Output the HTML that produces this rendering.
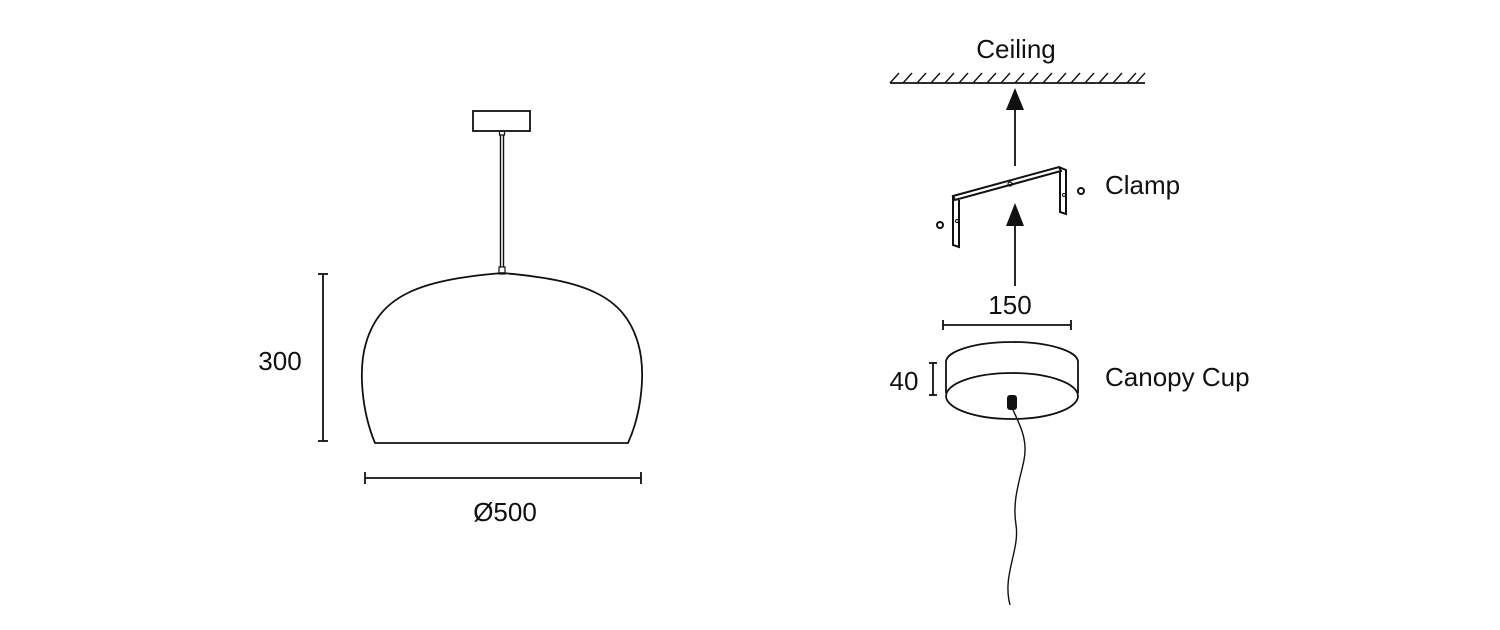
<!DOCTYPE html>
<html><head><style>
html,body{margin:0;padding:0;background:#fff;width:1500px;height:630px;overflow:hidden}
text{font-family:"Liberation Sans",sans-serif;font-size:26px;fill:#111}
</style></head><body>
<svg width="1500" height="630" viewBox="0 0 1500 630" xmlns="http://www.w3.org/2000/svg">
<g fill="none" stroke="#111" stroke-width="1.8">
<rect x="473" y="111" width="57" height="20"/>
<rect x="499.5" y="131" width="5" height="4" stroke-width="1.2"/>
<line x1="500.5" y1="135" x2="500.5" y2="267" stroke-width="1.4"/>
<line x1="503.5" y1="135" x2="503.5" y2="267" stroke-width="1.4"/>
<rect x="499" y="267" width="6" height="7" stroke-width="1.2"/>
<path d="M375,443 C362,412 358,370 366,343 C380,295 420,280 502,273 C584,280 624,295 638,343 C646,370 642,412 628,443 Z"/>
<line x1="323" y1="274" x2="323" y2="441"/>
<line x1="318" y1="274" x2="328" y2="274"/>
<line x1="318" y1="441" x2="328" y2="441"/>
<line x1="365" y1="478" x2="641" y2="478"/>
<line x1="365" y1="472" x2="365" y2="484"/>
<line x1="641" y1="472" x2="641" y2="484"/>
<line x1="890" y1="83" x2="1145" y2="83"/>
<path stroke-width="1.4" d="M890,83 l9,-10 M903,83 l9,-10 M917,83 l9,-10 M931,83 l9,-10 M945,83 l9,-10 M959,83 l9,-10 M973,83 l9,-10 M987,83 l9,-10 M1001,83 l9,-10 M1015,83 l9,-10 M1029,83 l9,-10 M1043,83 l9,-10 M1057,83 l9,-10 M1071,83 l9,-10 M1085,83 l9,-10 M1099,83 l9,-10 M1113,83 l9,-10 M1127,83 l9,-10 M1136,83 l9,-10"/>
<line x1="1015" y1="105" x2="1015" y2="166"/>
<line x1="1015" y1="222" x2="1015" y2="286"/>
<path stroke-width="2" d="M953,196 L1059,167 L1061,171 L955,200 Z"/>
<path stroke-width="2" d="M953,196 L953,245 L959,247 L959,200"/>
<path stroke-width="2" d="M1059,167 L1066,170 L1066,214 L1060,212 L1060,171"/>
<circle cx="1010" cy="184" r="2" stroke-width="1.2"/>
<circle cx="957" cy="221" r="1.5" stroke-width="1"/>
<circle cx="1064" cy="195" r="1.5" stroke-width="1"/>
<circle cx="940" cy="225" r="3" stroke-width="2"/>
<circle cx="1081" cy="191" r="3" stroke-width="2"/>
<line x1="943" y1="325" x2="1071" y2="325"/>
<line x1="943" y1="320" x2="943" y2="330"/>
<line x1="1071" y1="320" x2="1071" y2="330"/>
<path d="M946,393 L946,362 A66,20 0 0 1 1078,362 L1078,393"/>
<ellipse cx="1012" cy="396" rx="66" ry="23"/>
<line x1="933" y1="363" x2="933" y2="395"/>
<line x1="929" y1="363" x2="937" y2="363"/>
<line x1="929" y1="395" x2="937" y2="395"/>
<path stroke-width="1.4" d="M1013,410 C1020,425 1028,440 1024,460 C1020,480 1012,500 1016,525 C1020,550 1002,575 1010,605"/>
</g>
<rect x="1007" y="395" width="10" height="15" rx="3" fill="#111"/>
<polygon points="1015,88 1006,110 1024,110" fill="#111"/>
<polygon points="1015,203 1006,226 1024,226" fill="#111"/>
<text x="280" y="370" text-anchor="middle">300</text>
<text x="505" y="521" text-anchor="middle">Ø500</text>
<text x="1016" y="58" text-anchor="middle">Ceiling</text>
<text x="1105" y="194">Clamp</text>
<text x="1010" y="314" text-anchor="middle">150</text>
<text x="904" y="390" text-anchor="middle">40</text>
<text x="1105" y="386">Canopy Cup</text>
</svg>
</body></html>
